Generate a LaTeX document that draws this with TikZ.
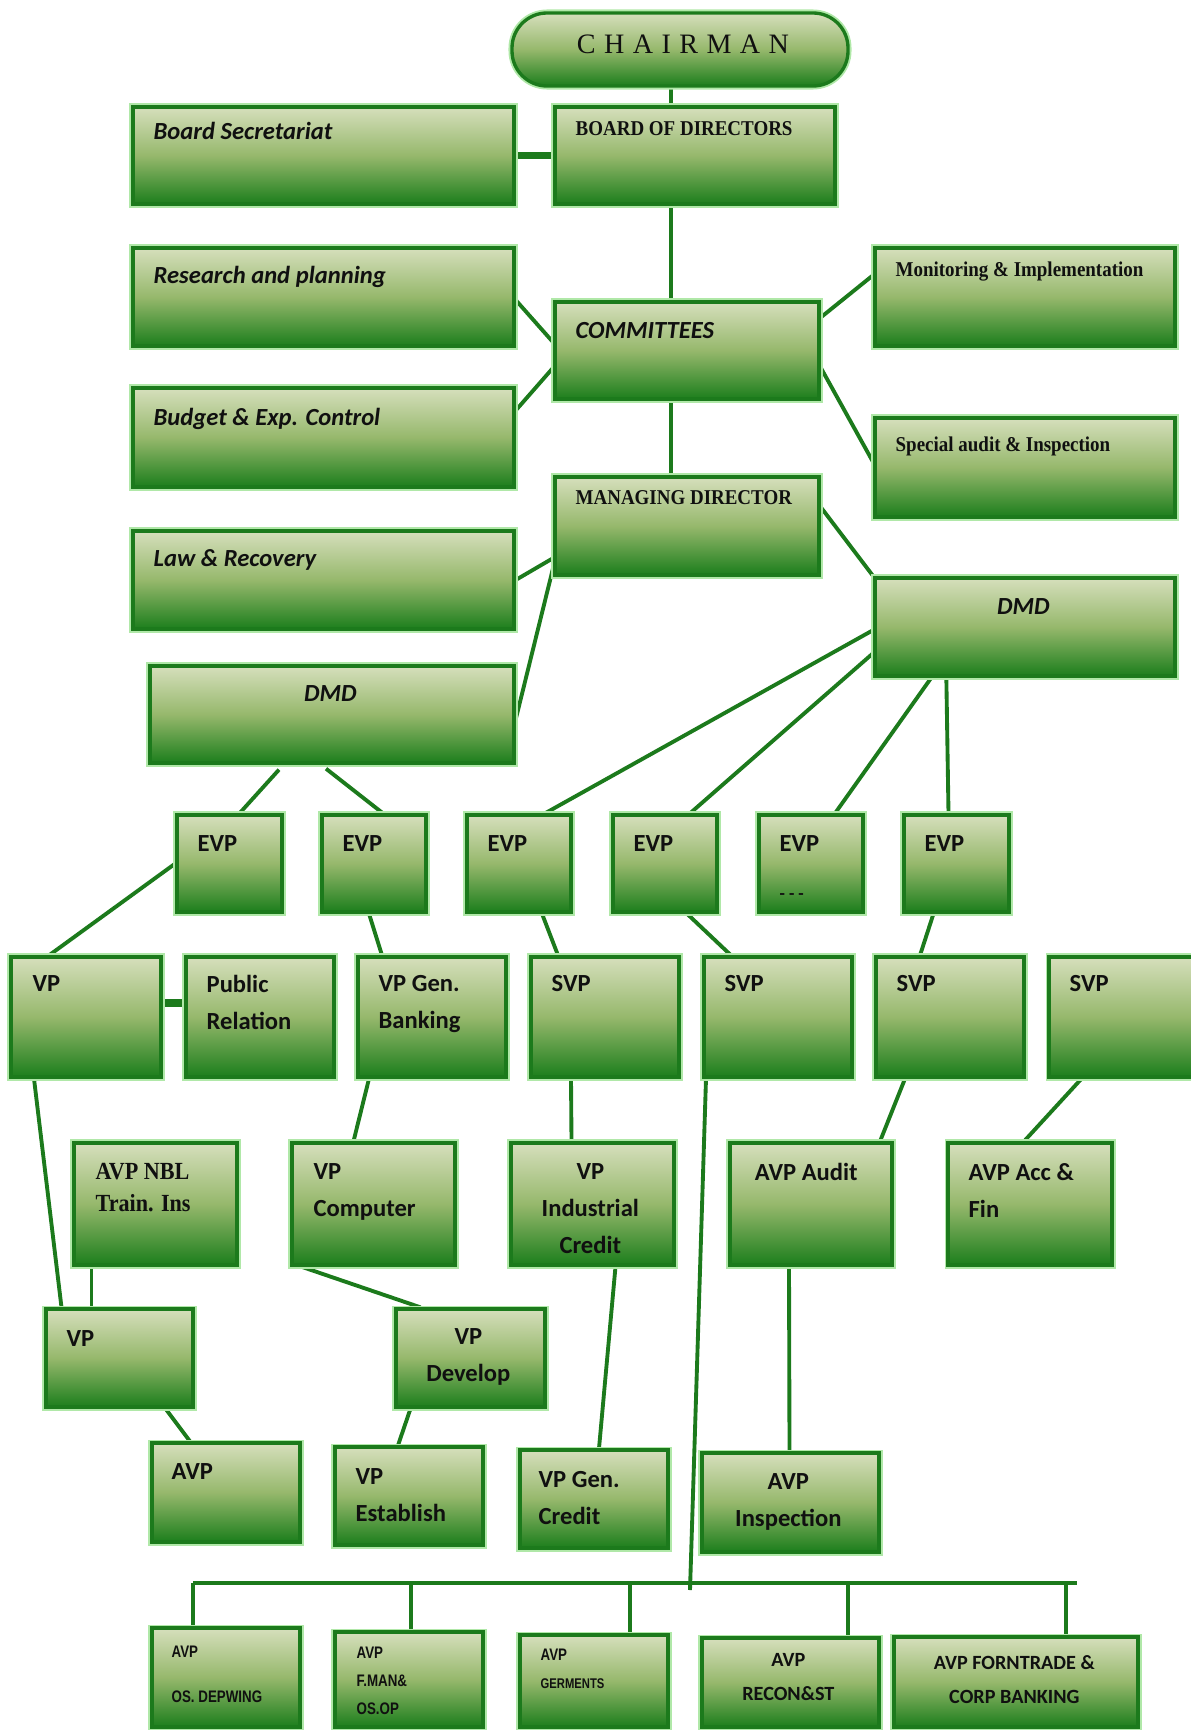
\documentclass[tikz,border=0pt]{standalone}
\usepackage{fontspec}
\setmainfont{Carlito}
\newfontfamily\serifcond{Liberation Serif}[FakeStretch=0.9]
\newfontfamily\chairfont{Liberation Serif}[LetterSpace=30]
\newfontfamily\narrowsans{Liberation Sans}[FakeStretch=0.8]
\usepackage{tikz}
\usetikzlibrary{fit,backgrounds}

\definecolor{chartgreen}{HTML}{1C7A1C}
\definecolor{boxtop}{HTML}{D6DFBC}
\definecolor{boxmid}{HTML}{96B86C}
\definecolor{boxbot}{HTML}{1C7E1C}
\definecolor{glowgreen}{HTML}{B0E8A8}
\definecolor{ink}{HTML}{101010}

\tikzset{
  orgbox/.style={draw=chartgreen, line width=1.9pt, top color=boxtop,
    bottom color=boxbot, middle color=boxmid, inner sep=0pt,
    preaction={draw=glowgreen, line width=4pt}},
  tag/.style={anchor=north west, inner sep=0pt, align=left, text=ink,
    font=\bfseries\fontsize{14}{21}\selectfont},
  itag/.style={tag, font=\bfseries\itshape\fontsize{14}{21}\selectfont},
  ctag/.style={tag, anchor=north, align=center},
  ictag/.style={itag, anchor=north, align=center},
  stag/.style={tag, font=\serifcond\bfseries\fontsize{12}{18}\selectfont},
  ntag/.style={tag, font=\narrowsans\bfseries\fontsize{9.5}{16}\selectfont},
  rtag/.style={ctag, font=\bfseries\fontsize{11.5}{19}\selectfont},
  link/.style={draw=chartgreen, line width=2.2pt},
  thicklink/.style={link, line width=4pt}
}

% box from corner to corner, text put at an offset from its north west corner
\newcommand\orgpost[6][tag]{%
  \node[orgbox, fit={(#3) (#4)}] (#2) {};
  \node[#1] at ([shift={(#5)}]#2.north west) {#6};}

\begin{document}
\begin{tikzpicture}[x=0.02cm, y=-0.02cm]
\useasboundingbox (0,0) rectangle (1190,1730);

% board level
\node[orgbox, rounded corners=0.7cm, fit={(512,13) (848,86)}] (chair) {};
\node[ctag, font=\chairfont\fontsize{16}{18}\selectfont] at ([shift={(3,23)}]chair.north) {CHAIRMAN};
\orgpost[itag]{bsec}{133,107}{514,204}{22,17}{Board Secretariat}
\orgpost[stag]{bod}{555,107}{835,204}{22,16}{BOARD OF DIRECTORS}
\orgpost[itag]{research}{133,248}{514,346}{22,20}{Research and planning}
\orgpost[itag]{comm}{555,302}{819,399}{22,22}{COMMITTEES}
\orgpost[stag]{monit}{875,248}{1175,346}{22,15}{Monitoring \& Implementation}
\orgpost[itag]{budget}{133,388}{514,487}{22,22}{Budget \& Exp. Control}
\orgpost[stag]{special}{875,418}{1175,517}{22,20}{Special audit \& Inspection}
\orgpost[stag]{mdir}{555,477}{819,575}{22,15}{MANAGING DIRECTOR}
\orgpost[itag]{law}{133,531}{514,629}{22,20}{Law \& Recovery}
\orgpost[ictag]{dmdr}{875,578}{1175,676}{150,22}{DMD}
\orgpost[ictag]{dmdl}{150,666}{514,763}{182,21}{DMD}

% EVP row
\orgpost{evpa}{177,815}{282,912}{22,22}{EVP}
\orgpost{evpb}{322,815}{426,912}{22,22}{EVP}
\orgpost{evpc}{467,815}{571,912}{22,22}{EVP}
\orgpost{evpd}{613,815}{717,912}{22,22}{EVP}
\orgpost{evpe}{759,815}{863,912}{22,22}{EVP\\[6pt]{\fontsize{10}{12}\selectfont - - -}}
\orgpost{evpf}{904,815}{1009,912}{22,22}{EVP}

% VP / SVP row
\orgpost{vpa}{11,957}{161,1077}{23,20}{VP}
\orgpost{pubrel}{186,957}{334,1077}{22,20}{Public\\Relation}
\orgpost{vpgb}{358,957}{506,1077}{22,20}{VP Gen.\\Banking}
\orgpost{svpa}{531,957}{679,1077}{22,20}{SVP}
\orgpost{svpb}{704,957}{852,1077}{22,20}{SVP}
\orgpost{svpc}{876,957}{1024,1077}{22,20}{SVP}
\orgpost{svpd}{1049,957}{1200,1077}{22,20}{SVP}

% fourth row
\orgpost[stag, font=\serifcond\bfseries\fontsize{14}{18}\selectfont]{avpnbl}{74,1143}{237,1265}{23,22}{AVP NBL\\Train. Ins}
\orgpost{vpcomp}{292,1143}{455,1265}{23,22}{VP\\Computer}
\orgpost[ctag]{vpind}{511,1143}{674,1265}{81,22}{VP\\Industrial\\Credit}
\orgpost[ctag]{avpaudit}{730,1143}{892,1265}{78,22}{AVP Audit}
\orgpost{avpacc}{948,1143}{1112,1265}{22,22}{AVP Acc \&\\Fin}

% fifth row
\orgpost{vpb}{46,1309}{193,1407}{22,23}{VP}
\orgpost[ctag]{vpdev}{396,1309}{545,1407}{74,21}{VP\\Develop}
\orgpost{avpb}{152,1443}{300,1542}{21,22}{AVP}
\orgpost{vpest}{335,1447}{483,1545}{22,23}{VP\\Establish}
\orgpost{vpgc}{520,1450}{668,1548}{20,23}{VP Gen.\\Credit}
\orgpost[ctag]{avpinsp}{702,1453}{879,1552}{88,22}{AVP\\Inspection}

% bottom row
\orgpost[ntag]{avpos}{152,1628}{300,1727}{21,19}{AVP\\[10pt]OS. DEPWING}
\orgpost[ntag]{avpfman}{335,1632}{483,1727}{23,16}{AVP\\F.MAN\&\\OS.OP}
\orgpost[ntag]{avpgerm}{520,1635}{668,1727}{22,15}{AVP\\{\fontsize{8}{16}\selectfont GERMENTS}}
\orgpost[rtag]{avprecon}{702,1638}{879,1727}{88,17}{AVP\\RECON\&ST}
\orgpost[rtag]{avpforn}{894,1637}{1138,1727}{122,20}{AVP FORNTRADE \&\\CORP BANKING}

\coordinate (trunk) at (671,0);
\coordinate (busjoin) at (690,1590);
\coordinate (busl) at (193,1583);
\coordinate (busr) at (1077,1583);

\begin{scope}[on background layer]
% top half
\draw[link] (chair.south -| trunk) -- (bod.north -| trunk);
\draw[link] (bod.south -| trunk) -- (comm.north -| trunk);
\draw[link] (comm.south -| trunk) -- (mdir.north -| trunk);
\draw[thicklink] (bsec.east) -- (bod.west);
\draw[link] ([shift={(0,3)}]research.east) -- ([shift={(0,-8)}]comm.west);
\draw[link] ([shift={(0,-27)}]budget.east) -- ([shift={(0,17)}]comm.west);
\draw[link] ([shift={(0,-22)}]monit.west) -- ([shift={(0,-33)}]comm.east);
\draw[link] ([shift={(0,-5)}]special.west) -- ([shift={(0,17)}]comm.east);
\draw[link] (law.east) -- ([shift={(0,32)}]mdir.west);
\draw[link] ([shift={(0,5)}]dmdl.east) -- ([shift={(0,41)}]mdir.west);
\draw[link] ([shift={(0,-19)}]mdir.east) -- (dmdr.north west);
% DMDs to EVPs
\draw[link] ([shift={(0,3)}]dmdr.west) -- ([shift={(26,0)}]evpc.north);
\draw[link] ([shift={(0,26)}]dmdr.west) -- ([shift={(25,0)}]evpd.north);
\draw[link] ([shift={(58,0)}]dmdr.south west) -- ([shift={(24,0)}]evpe.north);
\draw[link] ([shift={(73,0)}]dmdr.south west) -- ([shift={(-8,0)}]evpf.north);
\draw[link] ([shift={(-53,5)}]dmdl.south) -- ([shift={(10,0)}]evpa.north);
\draw[link] ([shift={(-6,4)}]dmdl.south) -- ([shift={(9,0)}]evpb.north);
% EVPs downwards
\draw[link] (evpa.west) -- ([shift={(-37,0)}]vpa.north);
\draw[link] ([shift={(-5,0)}]evpb.south) -- ([shift={(-50,0)}]vpgb.north);
\draw[link] ([shift={(23,0)}]evpc.south) -- ([shift={(-47,0)}]svpa.north);
\draw[link] ([shift={(22,0)}]evpd.south) -- ([shift={(-47,0)}]svpb.north);
\draw[link] ([shift={(-23,0)}]evpf.south) -- ([shift={(-30,0)}]svpc.north);
\draw[thicklink] ([shift={(0,-14)}]vpa.east) -- ([shift={(0,-14)}]pubrel.west);
% lower rows
\draw[link] ([shift={(-52,0)}]vpa.south) -- ([shift={(-58,0)}]vpb.north);
\draw[link] ([shift={(-64,0)}]avpnbl.south) -- ([shift={(-28,0)}]vpb.north);
\draw[link] ([shift={(-63,0)}]vpgb.south) -- ([shift={(-20,0)}]vpcomp.north);
\draw[link] ([shift={(-34,0)}]svpa.south) -- ([shift={(-21,0)}]vpind.north);
\draw[link] ([shift={(-72,0)}]svpb.south) -- (busjoin);
\draw[link] ([shift={(-45,0)}]svpc.south) -- ([shift={(69,0)}]avpaudit.north);
\draw[link] ([shift={(-43,0)}]svpd.south) -- ([shift={(-6,0)}]avpacc.north);
\draw[link] ([shift={(11,0)}]vpcomp.south west) -- ([shift={(-50,0)}]vpdev.north);
\draw[link] ([shift={(23,0)}]vpind.south) -- ([shift={(5,0)}]vpgc.north);
\draw[link] ([shift={(-22,0)}]avpaudit.south) -- ([shift={(-1,0)}]avpinsp.north);
\draw[link] ([shift={(46,0)}]vpb.south) -- ([shift={(-36,0)}]avpb.north);
\draw[link] ([shift={(-60,0)}]vpdev.south) -- ([shift={(-11,0)}]vpest.north);
% bus to the bottom row
\draw[link, line width=2.8pt] (busl) -- (busr);
\foreach \b/\x in {avpos/193, avpfman/411, avpgerm/630, avprecon/848, avpforn/1066}
  \draw[link] (busl -| \x,0) -- (\b.north -| \x,0);
\end{scope}
\end{tikzpicture}
\end{document}
